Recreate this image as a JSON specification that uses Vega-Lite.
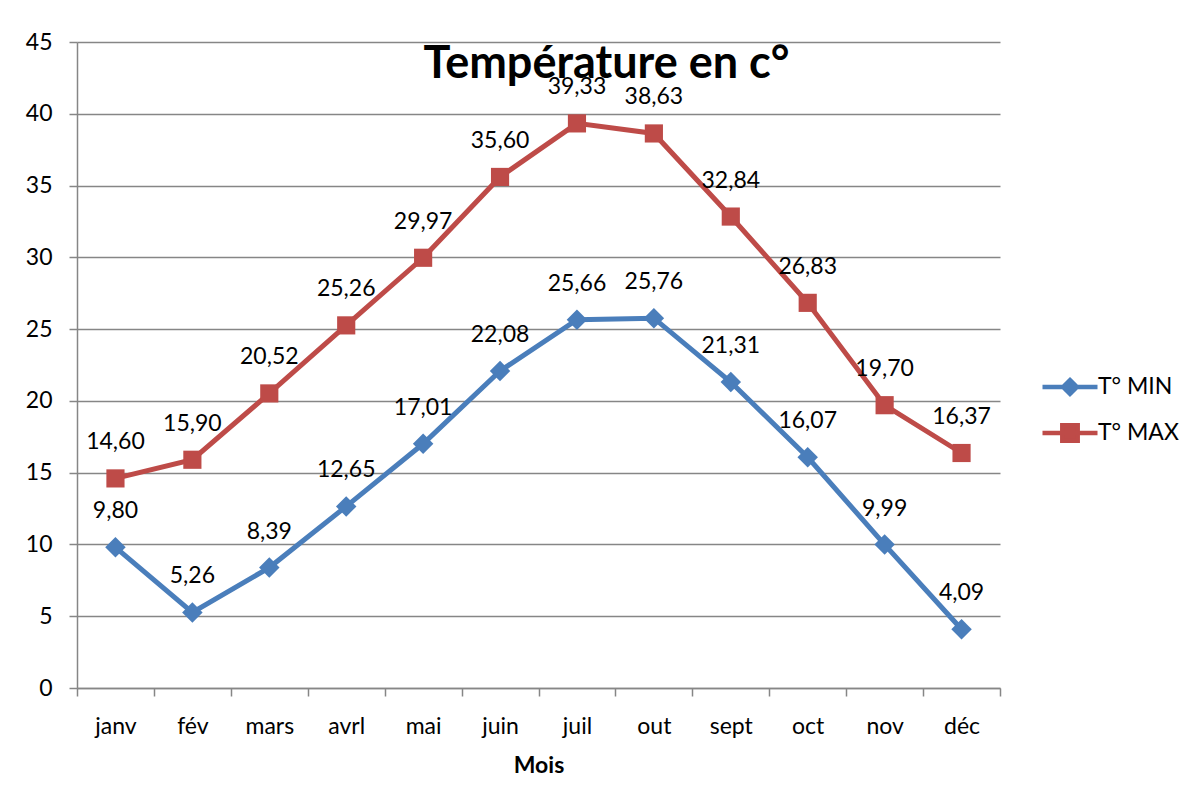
{
  "$schema": "https://vega.github.io/schema/vega-lite/v6.json",
  "width": 923,
  "height": 646,
  "autosize": {"type": "none"},
  "padding": {"left": 77, "top": 42, "right": 193, "bottom": 115},
  "background": "white",
  "config": {
    "font": "Lato",
    "locale": {"number": {"decimal": ",", "thousands": " ", "grouping": [3], "currency": ["", " €"]}},
    "view": {"stroke": null},
    "axis": {
      "labelFont": "Lato",
      "labelFontSize": 23,
      "labelColor": "black",
      "titleFont": "Lato",
      "titleColor": "black",
      "tickColor": "#868686",
      "domainColor": "#868686",
      "gridColor": "#868686",
      "tickWidth": 1.5,
      "domainWidth": 1.5,
      "gridWidth": 1.5,
      "tickSize": 8
    }
  },
  "title": {
    "text": "Température en c°",
    "font": "Lato",
    "fontSize": 45,
    "fontWeight": "bold",
    "color": "black",
    "anchor": "middle",
    "frame": "group",
    "dx": 68,
    "offset": -92,
    "baseline": "alphabetic"
  },
  "data": {
    "values": [
      {"mois": "janv", "serie": "T° MIN", "temp": 9.80},
      {"mois": "fév", "serie": "T° MIN", "temp": 5.26},
      {"mois": "mars", "serie": "T° MIN", "temp": 8.39},
      {"mois": "avrl", "serie": "T° MIN", "temp": 12.65},
      {"mois": "mai", "serie": "T° MIN", "temp": 17.01},
      {"mois": "juin", "serie": "T° MIN", "temp": 22.08},
      {"mois": "juil", "serie": "T° MIN", "temp": 25.66},
      {"mois": "out", "serie": "T° MIN", "temp": 25.76},
      {"mois": "sept", "serie": "T° MIN", "temp": 21.31},
      {"mois": "oct", "serie": "T° MIN", "temp": 16.07},
      {"mois": "nov", "serie": "T° MIN", "temp": 9.99},
      {"mois": "déc", "serie": "T° MIN", "temp": 4.09},
      {"mois": "janv", "serie": "T° MAX", "temp": 14.60},
      {"mois": "fév", "serie": "T° MAX", "temp": 15.90},
      {"mois": "mars", "serie": "T° MAX", "temp": 20.52},
      {"mois": "avrl", "serie": "T° MAX", "temp": 25.26},
      {"mois": "mai", "serie": "T° MAX", "temp": 29.97},
      {"mois": "juin", "serie": "T° MAX", "temp": 35.60},
      {"mois": "juil", "serie": "T° MAX", "temp": 39.33},
      {"mois": "out", "serie": "T° MAX", "temp": 38.63},
      {"mois": "sept", "serie": "T° MAX", "temp": 32.84},
      {"mois": "oct", "serie": "T° MAX", "temp": 26.83},
      {"mois": "nov", "serie": "T° MAX", "temp": 19.70},
      {"mois": "déc", "serie": "T° MAX", "temp": 16.37}
    ]
  },
  "encoding": {
    "x": {
      "field": "mois",
      "type": "nominal",
      "sort": ["janv", "fév", "mars", "avrl", "mai", "juin", "juil", "out", "sept", "oct", "nov", "déc"],
      "scale": {"type": "band", "paddingInner": 0, "paddingOuter": 0},
      "axis": {
        "title": "Mois",
        "titleFontSize": 23,
        "titleFontWeight": "bold",
        "titlePadding": 16,
        "labelAngle": 0,
        "labelPadding": 19,
        "tickBand": "extent",
        "grid": false
      }
    },
    "y": {
      "field": "temp",
      "type": "quantitative",
      "scale": {"domain": [0, 45], "nice": false},
      "axis": {
        "title": null,
        "values": [0, 5, 10, 15, 20, 25, 30, 35, 40, 45],
        "grid": true,
        "labelPadding": 17
      }
    }
  },
  "layer": [
    {
      "mark": {"type": "line", "strokeWidth": 5},
      "encoding": {
        "color": {
          "field": "serie",
          "type": "nominal",
          "scale": {"domain": ["T° MIN", "T° MAX"], "range": ["#4A7EBB", "#BE4B48"]},
          "legend": {
            "title": null,
            "orient": "none",
            "legendX": 963,
            "legendY": 315,
            "padding": 0,
            "symbolSize": 3025,
            "symbolStrokeWidth": 4.5,
            "labelFont": "Lato",
            "labelFontSize": 23,
            "labelColor": "black",
            "labelOffset": -2,
            "rowPadding": -6,
            "encode": {
              "symbols": {
                "update": {
                  "shape": [
                    {"test": "datum.value === 'T° MIN'", "value": "M-1,0H1M0,-0.25L0.25,0L0,0.25L-0.25,0Z"},
                    {"value": "M-1,0H1M-0.28,-0.28H0.28V0.28H-0.28Z"}
                  ],
                  "fill": {"scale": "color", "field": "value"},
                  "stroke": {"scale": "color", "field": "value"},
                  "opacity": {"value": 1},
                  "fillOpacity": {"value": 1},
                  "strokeOpacity": {"value": 1}
                }
              }
            }
          }
        }
      }
    },
    {
      "transform": [{"filter": "datum.serie === 'T° MIN'"}],
      "mark": {"type": "point", "shape": "diamond", "size": 420, "filled": true, "opacity": 1, "color": "#4A7EBB"}
    },
    {
      "transform": [{"filter": "datum.serie === 'T° MAX'"}],
      "mark": {"type": "point", "shape": "square", "size": 330, "filled": true, "opacity": 1, "color": "#BE4B48"}
    },
    {
      "mark": {"type": "text", "dy": -36, "fontSize": 23, "font": "Lato", "color": "black", "baseline": "middle"},
      "encoding": {
        "text": {"field": "temp", "type": "quantitative", "format": ".2f"}
      }
    }
  ]
}
